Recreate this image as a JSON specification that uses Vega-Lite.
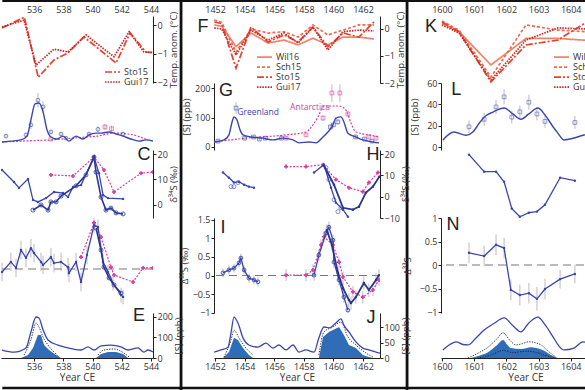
{
"$schema":"https://vega.github.io/schema/vega-lite/v6.json",
"padding":0,
"background":"white",
"bounds":"flush",
"columns":3,
"spacing":{"row":0,"column":61},
"resolve":{"scale":{"color":"independent","strokeDash":"independent","shape":"independent"}},
"config":{
 "font":"Open Sans",
 "view":{"stroke":null},
 "axis":{"grid":false,"labelFont":"Open Sans","labelFontSize":9,"labelColor":"#333","titleFont":"Open Sans","titleFontSize":9.5,"titleFontWeight":"normal","titleColor":"#333","domainColor":"#222","tickColor":"#222","tickSize":3,"labelPadding":1,"titlePadding":1,"labelFlush":false,"labelOverlap":false}
},
"datasets":{
 "c1A":[
  {"s":"Sto15","yr":533.80,"v":-0.09},{"s":"Sto15","yr":535.33,"v":0.29},{"s":"Sto15","yr":536.28,"v":-1.82},{"s":"Sto15","yr":537.36,"v":-1.21},{"s":"Sto15","yr":538.32,"v":-0.96},{"s":"Sto15","yr":539.41,"v":-0.40},{"s":"Sto15","yr":541.61,"v":-1.32},{"s":"Sto15","yr":542.57,"v":-0.26},{"s":"Sto15","yr":543.66,"v":-0.93},{"s":"Sto15","yr":544.14,"v":-0.95},
  {"s":"Gui17","yr":533.80,"v":-0.05},{"s":"Gui17","yr":535.31,"v":0.19},{"s":"Gui17","yr":536.13,"v":-1.39},{"s":"Gui17","yr":537.36,"v":-0.83},{"s":"Gui17","yr":538.32,"v":-0.93},{"s":"Gui17","yr":539.55,"v":-0.33},{"s":"Gui17","yr":541.47,"v":-1.10},{"s":"Gui17","yr":542.50,"v":-0.22},{"s":"Gui17","yr":543.52,"v":-0.93},{"s":"Gui17","yr":544.14,"v":-0.95}
 ],
 "c1BG":[{"yr":533.80,"v":17},{"yr":534.41,"v":20},{"yr":535.10,"v":24},{"yr":535.51,"v":37},{"yr":535.78,"v":92},{"yr":536.06,"v":146},{"yr":536.33,"v":149},{"yr":536.61,"v":119},{"yr":536.88,"v":58},{"yr":537.15,"v":34},{"yr":537.57,"v":27},{"yr":537.98,"v":37},{"yr":538.39,"v":20},{"yr":538.87,"v":37},{"yr":539.35,"v":27},{"yr":539.76,"v":41},{"yr":540.24,"v":47},{"yr":540.58,"v":47},{"yr":541.13,"v":51},{"yr":541.61,"v":44},{"yr":542.09,"v":37},{"yr":542.63,"v":27},{"yr":543.18,"v":20},{"yr":543.66,"v":24},{"yr":544.14,"v":20}],
 "c1BA":[{"yr":533.80,"v":17},{"yr":537.15,"v":24},{"yr":540.37,"v":37},{"yr":541.26,"v":47},{"yr":541.95,"v":47},{"yr":542.84,"v":41},{"yr":543.80,"v":24}],
 "c1Bp":[{"s":"G","yr":535.78,"v":75,"lo":60,"hi":90},{"s":"G","yr":536.26,"v":159,"lo":134,"hi":184},{"s":"G","yr":536.61,"v":136,"lo":116,"hi":156},{"s":"G","yr":534.07,"v":37,"lo":30,"hi":44},{"s":"G","yr":535.44,"v":41,"lo":34,"hi":48},{"s":"G","yr":537.15,"v":51,"lo":44,"hi":58},{"s":"G","yr":537.84,"v":44,"lo":37,"hi":51},{"s":"G","yr":538.18,"v":30,"lo":24,"hi":36},{"s":"G","yr":539.76,"v":44,"lo":37,"hi":51},{"s":"G","yr":542.09,"v":44,"lo":37,"hi":51},{"s":"G","yr":540.37,"v":60,"lo":50,"hi":70},{"s":"A","yr":537.15,"v":27,"lo":20,"hi":34},{"s":"A","yr":540.85,"v":68,"lo":58,"hi":78},{"s":"A","yr":541.30,"v":62,"lo":52,"hi":72}],
 "c1C":[
  {"s":"L1","yr":533.80,"v":13.7},{"s":"L1","yr":534.62,"v":9.0},{"s":"L1","yr":534.96,"v":6.7},{"s":"L1","yr":535.58,"v":10.2},{"s":"L1","yr":535.92,"v":2.0},{"s":"L1","yr":536.26,"v":1.2},{"s":"L1","yr":536.81,"v":2.7},{"s":"L1","yr":537.36,"v":5.1},{"s":"L1","yr":537.98,"v":4.7},{"s":"L1","yr":538.32,"v":3.1},{"s":"L1","yr":538.66,"v":7.1},{"s":"L1","yr":539.21,"v":7.8},{"s":"L1","yr":540.10,"v":18.8},{"s":"L1","yr":540.44,"v":12.5},{"s":"L1","yr":540.72,"v":3.9},{"s":"L1","yr":541.06,"v":2.7},{"s":"L1","yr":542.09,"v":2.4},
  {"s":"L2","yr":535.92,"v":-2.0},{"s":"L2","yr":536.47,"v":0},{"s":"L2","yr":536.95,"v":-2.0},{"s":"L2","yr":537.15,"v":1.2},{"s":"L2","yr":537.50,"v":1.2},{"s":"L2","yr":537.84,"v":3.5},{"s":"L2","yr":538.87,"v":7.5},{"s":"L2","yr":539.55,"v":11.8},{"s":"L2","yr":540.10,"v":18.8},{"s":"L2","yr":540.24,"v":12.9},{"s":"L2","yr":540.58,"v":3.1},{"s":"L2","yr":540.92,"v":-2.0},{"s":"L2","yr":541.26,"v":-1.2},{"s":"L2","yr":541.61,"v":-3.1},{"s":"L2","yr":542.09,"v":-3.5},
  {"s":"M","yr":537.15,"v":11.8},{"s":"M","yr":538.66,"v":11.4},{"s":"M","yr":540.10,"v":18.8},{"s":"M","yr":540.78,"v":13.7},{"s":"M","yr":541.47,"v":5.1},{"s":"M","yr":543.32,"v":12.5},{"s":"M","yr":544.14,"v":12.9}
 ],
 "c1D":[
  {"s":"L1","yr":533.80,"v":-0.08,"lo":-0.33,"hi":0.17},{"s":"L1","yr":534.41,"v":0.19,"lo":-0.06,"hi":0.44},{"s":"L1","yr":534.76,"v":0.03,"lo":-0.22,"hi":0.28},{"s":"L1","yr":535.10,"v":0.51,"lo":0.26,"hi":0.76},{"s":"L1","yr":535.44,"v":0.30,"lo":0.05,"hi":0.55},{"s":"L1","yr":535.78,"v":0.56,"lo":0.31,"hi":0.81},{"s":"L1","yr":535.99,"v":0.43,"lo":0.18,"hi":0.68},{"s":"L1","yr":536.47,"v":0.19,"lo":-0.06,"hi":0.44},{"s":"L1","yr":536.61,"v":0.11,"lo":-0.14,"hi":0.36},{"s":"L1","yr":537.15,"v":0.32,"lo":0.07,"hi":0.57},{"s":"L1","yr":537.36,"v":0.16,"lo":-0.09,"hi":0.41},{"s":"L1","yr":537.84,"v":0.19,"lo":-0.06,"hi":0.44},{"s":"L1","yr":538.32,"v":0.05,"lo":-0.2,"hi":0.3},{"s":"L1","yr":538.39,"v":-0.11,"lo":-0.36,"hi":0.14},{"s":"L1","yr":538.87,"v":0.19,"lo":-0.06,"hi":0.44},{"s":"L1","yr":539.21,"v":-0.35,"lo":-0.6,"hi":-0.1},{"s":"L1","yr":539.62,"v":0.38,"lo":0.13,"hi":0.63},{"s":"L1","yr":540.10,"v":1.18,"lo":0.98,"hi":1.38},{"s":"L1","yr":540.37,"v":1.13,"lo":0.93,"hi":1.33},{"s":"L1","yr":540.72,"v":0.19,"lo":-0.01,"hi":0.39},{"s":"L1","yr":541.06,"v":-0.08,"lo":-0.28,"hi":0.12},{"s":"L1","yr":541.40,"v":-0.38,"lo":-0.58,"hi":-0.18},{"s":"L1","yr":541.95,"v":-0.70,"lo":-0.9,"hi":-0.5},{"s":"L1","yr":542.09,"v":-0.75,"lo":-0.95,"hi":-0.55},
  {"s":"L2","yr":540.24,"v":1.10},{"s":"L2","yr":540.58,"v":0.51},{"s":"L2","yr":540.78,"v":0.05},{"s":"L2","yr":541.13,"v":-0.24},{"s":"L2","yr":541.47,"v":-0.43},{"s":"L2","yr":541.95,"v":-0.65},
  {"s":"M","yr":539.21,"v":0.32},{"s":"M","yr":540.10,"v":1.24},{"s":"M","yr":540.58,"v":0.86},{"s":"M","yr":541.26,"v":0.05},{"s":"M","yr":541.47,"v":-0.16},{"s":"M","yr":542.77,"v":-0.35},{"s":"M","yr":543.46,"v":0.03},{"s":"M","yr":544.14,"v":0.03}
 ],
 "c1E":[
  {"s":"tot","g":"a","yr":533.80,"v":39},{"s":"tot","g":"a","yr":534.62,"v":29},{"s":"tot","g":"a","yr":535.44,"v":49},{"s":"tot","g":"a","yr":535.78,"v":127},{"s":"tot","g":"a","yr":536.13,"v":200},{"s":"tot","g":"a","yr":536.33,"v":195},{"s":"tot","g":"a","yr":536.61,"v":137},{"s":"tot","g":"a","yr":536.95,"v":88},{"s":"tot","g":"a","yr":537.63,"v":63},{"s":"tot","g":"a","yr":538.32,"v":49},{"s":"tot","g":"a","yr":539.21,"v":39},{"s":"tot","g":"a","yr":539.69,"v":54},{"s":"tot","g":"a","yr":540.10,"v":39},{"s":"tot","g":"a","yr":540.58,"v":59},{"s":"tot","g":"a","yr":541.26,"v":63},{"s":"tot","g":"a","yr":541.95,"v":54},{"s":"tot","g":"a","yr":542.43,"v":39},{"s":"tot","g":"a","yr":543.11,"v":49},{"s":"tot","g":"a","yr":543.52,"v":29},{"s":"tot","g":"a","yr":543.80,"v":39},{"s":"tot","g":"a","yr":544.14,"v":29},
  {"s":"ub","g":"a","yr":535.31,"v":15},{"s":"ub","g":"a","yr":535.78,"v":88},{"s":"ub","g":"a","yr":536.13,"v":171},{"s":"ub","g":"a","yr":536.33,"v":151},{"s":"ub","g":"a","yr":536.61,"v":102},{"s":"ub","g":"a","yr":536.95,"v":63},{"s":"ub","g":"a","yr":537.36,"v":29},{"s":"ub","g":"a","yr":537.70,"v":5},
  {"s":"ub","g":"b","yr":540.37,"v":15},{"s":"ub","g":"b","yr":540.78,"v":39},{"s":"ub","g":"b","yr":541.47,"v":44},{"s":"ub","g":"b","yr":542.15,"v":24},{"s":"ub","g":"b","yr":542.50,"v":5},
  {"s":"fill","g":"a","yr":535.10,"v":0},{"s":"fill","g":"a","yr":535.58,"v":15},{"s":"fill","g":"a","yr":535.92,"v":49},{"s":"fill","g":"a","yr":536.26,"v":112},{"s":"fill","g":"a","yr":536.47,"v":112},{"s":"fill","g":"a","yr":536.68,"v":63},{"s":"fill","g":"a","yr":537.02,"v":39},{"s":"fill","g":"a","yr":537.50,"v":15},{"s":"fill","g":"a","yr":537.84,"v":0},
  {"s":"fill","g":"b","yr":540.24,"v":0},{"s":"fill","g":"b","yr":540.58,"v":20},{"s":"fill","g":"b","yr":541.06,"v":29},{"s":"fill","g":"b","yr":541.61,"v":29},{"s":"fill","g":"b","yr":542.09,"v":20},{"s":"fill","g":"b","yr":542.43,"v":0}
 ],
 "c2F":[
  {"s":"Wil16","yr":1451.95,"v":0.15},{"s":"Wil16","yr":1452.45,"v":0.10},{"s":"Wil16","yr":1453.42,"v":-0.65},{"s":"Wil16","yr":1454.43,"v":-0.15},{"s":"Wil16","yr":1455.58,"v":-0.52},{"s":"Wil16","yr":1456.66,"v":-0.41},{"s":"Wil16","yr":1457.61,"v":-0.59},{"s":"Wil16","yr":1458.62,"v":-0.34},{"s":"Wil16","yr":1459.63,"v":-0.59},{"s":"Wil16","yr":1460.65,"v":-0.30},{"s":"Wil16","yr":1461.73,"v":-0.30},{"s":"Wil16","yr":1462.74,"v":-0.37},
  {"s":"Sch15","yr":1451.95,"v":0.33},{"s":"Sch15","yr":1452.45,"v":0.25},{"s":"Sch15","yr":1453.42,"v":-0.85},{"s":"Sch15","yr":1454.43,"v":0.0},{"s":"Sch15","yr":1455.58,"v":-0.15},{"s":"Sch15","yr":1456.66,"v":-0.10},{"s":"Sch15","yr":1457.61,"v":-0.30},{"s":"Sch15","yr":1458.62,"v":0.15},{"s":"Sch15","yr":1459.63,"v":-0.22},{"s":"Sch15","yr":1460.65,"v":-0.04},{"s":"Sch15","yr":1461.73,"v":0.15},{"s":"Sch15","yr":1462.74,"v":0.15},
  {"s":"Sto15","yr":1451.95,"v":0.26},{"s":"Sto15","yr":1452.45,"v":0.20},{"s":"Sto15","yr":1453.42,"v":-1.45},{"s":"Sto15","yr":1454.43,"v":0.07},{"s":"Sto15","yr":1455.58,"v":-0.48},{"s":"Sto15","yr":1456.66,"v":-0.22},{"s":"Sto15","yr":1457.61,"v":-0.48},{"s":"Sto15","yr":1458.62,"v":0.07},{"s":"Sto15","yr":1459.63,"v":-0.66},{"s":"Sto15","yr":1460.65,"v":-0.15},{"s":"Sto15","yr":1461.73,"v":-0.30},{"s":"Sto15","yr":1462.74,"v":0.26},
  {"s":"Gui17","yr":1451.95,"v":0.04},{"s":"Gui17","yr":1452.45,"v":0.0},{"s":"Gui17","yr":1453.42,"v":-0.96},{"s":"Gui17","yr":1454.43,"v":-0.04},{"s":"Gui17","yr":1455.58,"v":-0.41},{"s":"Gui17","yr":1456.66,"v":-0.15},{"s":"Gui17","yr":1457.61,"v":-0.52},{"s":"Gui17","yr":1458.62,"v":0.07},{"s":"Gui17","yr":1459.63,"v":-0.78},{"s":"Gui17","yr":1460.65,"v":-0.10},{"s":"Gui17","yr":1461.73,"v":-0.04},{"s":"Gui17","yr":1462.74,"v":-0.07}
 ],
 "c2GG":[{"yr":1451.93,"v":17},{"yr":1452.61,"v":24},{"yr":1452.94,"v":41},{"yr":1453.15,"v":85},{"yr":1453.28,"v":102},{"yr":1453.48,"v":92},{"yr":1453.69,"v":58},{"yr":1453.89,"v":41},{"yr":1454.43,"v":34},{"yr":1455.24,"v":30},{"yr":1455.92,"v":24},{"yr":1456.59,"v":30},{"yr":1457.27,"v":24},{"yr":1457.67,"v":14},{"yr":1458.35,"v":17},{"yr":1458.82,"v":14},{"yr":1459.30,"v":34},{"yr":1459.63,"v":51},{"yr":1459.90,"v":68},{"yr":1460.18,"v":98},{"yr":1460.51,"v":102},{"yr":1460.71,"v":85},{"yr":1460.98,"v":47},{"yr":1461.52,"v":34},{"yr":1461.99,"v":24},{"yr":1462.67,"v":17},{"yr":1463.08,"v":14}],
 "c2GA":[{"yr":1451.93,"v":17},{"yr":1454.09,"v":30},{"yr":1456.80,"v":41},{"yr":1458.15,"v":51},{"yr":1458.62,"v":75},{"yr":1458.96,"v":102},{"yr":1459.30,"v":136},{"yr":1459.70,"v":139},{"yr":1460.38,"v":139},{"yr":1460.85,"v":125},{"yr":1461.19,"v":81},{"yr":1461.52,"v":51},{"yr":1462.40,"v":41},{"yr":1463.08,"v":34}],
 "c2Gp":[{"s":"G","yr":1452.20,"v":20,"lo":15,"hi":25},{"s":"G","yr":1453.42,"v":132,"lo":112,"hi":152},{"s":"G","yr":1454.00,"v":30,"lo":25,"hi":35},{"s":"G","yr":1454.60,"v":34,"lo":29,"hi":39},{"s":"G","yr":1455.00,"v":27,"lo":22,"hi":32},{"s":"G","yr":1455.40,"v":30,"lo":25,"hi":35},{"s":"G","yr":1456.50,"v":30,"lo":25,"hi":35},{"s":"G","yr":1459.80,"v":68,"lo":60,"hi":76},{"s":"G","yr":1460.00,"v":75,"lo":67,"hi":83},{"s":"G","yr":1460.30,"v":85,"lo":77,"hi":93},{"s":"G","yr":1461.50,"v":34,"lo":29,"hi":39},{"s":"G","yr":1462.10,"v":27,"lo":22,"hi":32},{"s":"G","yr":1462.60,"v":20,"lo":15,"hi":25},
  {"s":"A","yr":1456.80,"v":30,"lo":24,"hi":36},{"s":"A","yr":1458.15,"v":41,"lo":34,"hi":48},{"s":"A","yr":1459.30,"v":98,"lo":88,"hi":108},{"s":"A","yr":1459.90,"v":183,"lo":153,"hi":213},{"s":"A","yr":1460.44,"v":183,"lo":153,"hi":213},{"s":"A","yr":1460.98,"v":112,"lo":102,"hi":122},{"s":"A","yr":1462.40,"v":34,"lo":28,"hi":40},{"s":"A","yr":1462.88,"v":30,"lo":24,"hi":36}],
 "c2H":[
  {"s":"L0","yr":1452.54,"v":11.3},{"s":"L0","yr":1452.94,"v":8.9},{"s":"L0","yr":1453.28,"v":6.6},{"s":"L0","yr":1453.62,"v":7.0},{"s":"L0","yr":1453.96,"v":5.6},{"s":"L0","yr":1454.29,"v":4.7},{"s":"L0","yr":1454.63,"v":4.2},
  {"s":"L1","yr":1458.69,"v":11.3},{"s":"L1","yr":1459.36,"v":15.0},{"s":"L1","yr":1459.84,"v":4.2},{"s":"L1","yr":1460.17,"v":-2.8},{"s":"L1","yr":1460.65,"v":-6.1},{"s":"L1","yr":1460.98,"v":-9.4},
  {"s":"L2","yr":1459.36,"v":14.6},{"s":"L2","yr":1460.04,"v":5.6},{"s":"L2","yr":1460.65,"v":-5.2},{"s":"L2","yr":1461.32,"v":-6.1},{"s":"L2","yr":1461.73,"v":-4.7},{"s":"L2","yr":1462.20,"v":1.9},{"s":"L2","yr":1462.67,"v":4.7},{"s":"L2","yr":1463.10,"v":9.4},
  {"s":"M","yr":1456.80,"v":14.1},{"s":"M","yr":1458.15,"v":14.1},{"s":"M","yr":1459.30,"v":15.0},{"s":"M","yr":1460.17,"v":8.0},{"s":"M","yr":1461.05,"v":4.2},{"s":"M","yr":1461.99,"v":2.3},{"s":"M","yr":1462.40,"v":6.6},{"s":"M","yr":1463.01,"v":11.3},
  {"s":"C","yr":1453.08,"v":4.7},{"s":"C","yr":1453.28,"v":4.7},{"s":"C","yr":1453.55,"v":6.6},{"s":"C","yr":1459.50,"v":13.6},{"s":"C","yr":1459.70,"v":8.0},{"s":"C","yr":1460.04,"v":-1.4},{"s":"C","yr":1460.31,"v":-7.0},{"s":"C","yr":1460.51,"v":-5.2}
 ],
 "c2I":[
  {"s":"L0","yr":1452.54,"v":0.07,"lo":-0.05,"hi":0.19},{"s":"L0","yr":1452.94,"v":0.15,"lo":0.03,"hi":0.27},{"s":"L0","yr":1453.28,"v":0.20,"lo":0.08,"hi":0.32},{"s":"L0","yr":1453.62,"v":0.34,"lo":0.22,"hi":0.46},{"s":"L0","yr":1453.75,"v":0.47,"lo":0.35,"hi":0.59},{"s":"L0","yr":1453.96,"v":0.15,"lo":0.03,"hi":0.27},{"s":"L0","yr":1454.29,"v":-0.07,"lo":-0.19,"hi":0.05},{"s":"L0","yr":1454.63,"v":-0.12,"lo":-0.24,"hi":0.0},{"s":"L0","yr":1454.90,"v":-0.17,"lo":-0.29,"hi":-0.05},
  {"s":"L1","yr":1458.69,"v":0.01,"lo":-0.14,"hi":0.16},{"s":"L1","yr":1459.02,"v":0.55,"lo":0.4,"hi":0.7},{"s":"L1","yr":1459.50,"v":1.14,"lo":0.99,"hi":1.29},{"s":"L1","yr":1459.70,"v":1.30,"lo":1.15,"hi":1.45},{"s":"L1","yr":1459.97,"v":0.95,"lo":0.8,"hi":1.1},{"s":"L1","yr":1460.04,"v":0.36,"lo":0.21,"hi":0.51},{"s":"L1","yr":1460.38,"v":-0.12,"lo":-0.27,"hi":0.03},{"s":"L1","yr":1460.71,"v":-0.58,"lo":-0.73,"hi":-0.43},{"s":"L1","yr":1460.98,"v":-0.93,"lo":-1.0,"hi":-0.78},
  {"s":"L2","yr":1459.56,"v":1.22,"lo":1.07,"hi":1.37},{"s":"L2","yr":1459.90,"v":0.82,"lo":0.67,"hi":0.97},{"s":"L2","yr":1460.31,"v":0.07,"lo":-0.08,"hi":0.22},{"s":"L2","yr":1460.65,"v":-0.34,"lo":-0.49,"hi":-0.19},{"s":"L2","yr":1461.05,"v":-0.66,"lo":-0.84,"hi":-0.48},{"s":"L2","yr":1461.19,"v":-0.74,"lo":-0.92,"hi":-0.56},{"s":"L2","yr":1461.52,"v":-0.58,"lo":-0.76,"hi":-0.4},{"s":"L2","yr":1462.06,"v":-0.20,"lo":-0.38,"hi":-0.02},{"s":"L2","yr":1462.40,"v":-0.39,"lo":-0.57,"hi":-0.21},{"s":"L2","yr":1462.88,"v":-0.12,"lo":-0.3,"hi":0.06},{"s":"L2","yr":1463.08,"v":0.01,"lo":-0.15,"hi":0.17},
  {"s":"M","yr":1456.80,"v":0.01,"lo":-0.15,"hi":0.17},{"s":"M","yr":1458.15,"v":0.01,"lo":-0.15,"hi":0.17},{"s":"M","yr":1458.62,"v":0.15,"lo":0.0,"hi":0.3},{"s":"M","yr":1459.16,"v":0.82,"lo":0.67,"hi":0.97},{"s":"M","yr":1459.36,"v":1.04,"lo":0.89,"hi":1.19},{"s":"M","yr":1459.97,"v":0.82,"lo":0.67,"hi":0.97},{"s":"M","yr":1460.38,"v":0.36,"lo":0.21,"hi":0.51},{"s":"M","yr":1460.65,"v":-0.04,"lo":-0.19,"hi":0.11},{"s":"M","yr":1461.32,"v":-0.44,"lo":-0.6,"hi":-0.28},{"s":"M","yr":1461.99,"v":-0.58,"lo":-0.74,"hi":-0.42},{"s":"M","yr":1462.67,"v":-0.39,"lo":-0.55,"hi":-0.23},{"s":"M","yr":1463.08,"v":-0.12,"lo":-0.28,"hi":0.04}
 ],
 "c2J":[
  {"s":"tot","g":"a","yr":1451.93,"v":19},{"s":"tot","g":"a","yr":1452.40,"v":26},{"s":"tot","g":"a","yr":1452.88,"v":35},{"s":"tot","g":"a","yr":1453.08,"v":81},{"s":"tot","g":"a","yr":1453.28,"v":132},{"s":"tot","g":"a","yr":1453.55,"v":113},{"s":"tot","g":"a","yr":1453.89,"v":65},{"s":"tot","g":"a","yr":1454.29,"v":42},{"s":"tot","g":"a","yr":1454.90,"v":35},{"s":"tot","g":"a","yr":1455.44,"v":48},{"s":"tot","g":"a","yr":1455.92,"v":32},{"s":"tot","g":"a","yr":1456.32,"v":42},{"s":"tot","g":"a","yr":1456.80,"v":26},{"s":"tot","g":"a","yr":1457.27,"v":42},{"s":"tot","g":"a","yr":1457.67,"v":19},{"s":"tot","g":"a","yr":1458.15,"v":26},{"s":"tot","g":"a","yr":1458.69,"v":19},{"s":"tot","g":"a","yr":1459.02,"v":65},{"s":"tot","g":"a","yr":1459.36,"v":100},{"s":"tot","g":"a","yr":1459.70,"v":97},{"s":"tot","g":"a","yr":1460.17,"v":113},{"s":"tot","g":"a","yr":1460.51,"v":126},{"s":"tot","g":"a","yr":1460.71,"v":106},{"s":"tot","g":"a","yr":1461.05,"v":84},{"s":"tot","g":"a","yr":1461.52,"v":52},{"s":"tot","g":"a","yr":1461.99,"v":32},{"s":"tot","g":"a","yr":1462.40,"v":26},{"s":"tot","g":"a","yr":1462.88,"v":19},{"s":"tot","g":"a","yr":1463.15,"v":16},
  {"s":"ub","g":"a","yr":1452.61,"v":3},{"s":"ub","g":"a","yr":1453.08,"v":58},{"s":"ub","g":"a","yr":1453.28,"v":90},{"s":"ub","g":"a","yr":1453.62,"v":65},{"s":"ub","g":"a","yr":1454.09,"v":32},{"s":"ub","g":"a","yr":1454.57,"v":10},
  {"s":"ub","g":"b","yr":1459.02,"v":10},{"s":"ub","g":"b","yr":1459.36,"v":84},{"s":"ub","g":"b","yr":1459.97,"v":100},{"s":"ub","g":"b","yr":1460.51,"v":116},{"s":"ub","g":"b","yr":1460.98,"v":68},{"s":"ub","g":"b","yr":1461.52,"v":42},{"s":"ub","g":"b","yr":1462.20,"v":16},{"s":"ub","g":"b","yr":1462.67,"v":3},
  {"s":"fill","g":"a","yr":1452.54,"v":0},{"s":"fill","g":"a","yr":1452.94,"v":19},{"s":"fill","g":"a","yr":1453.28,"v":65},{"s":"fill","g":"a","yr":1453.55,"v":58},{"s":"fill","g":"a","yr":1453.89,"v":32},{"s":"fill","g":"a","yr":1454.29,"v":10},{"s":"fill","g":"a","yr":1454.57,"v":0},
  {"s":"fill","g":"b","yr":1459.02,"v":0},{"s":"fill","g":"b","yr":1459.30,"v":68},{"s":"fill","g":"b","yr":1459.70,"v":84},{"s":"fill","g":"b","yr":1460.38,"v":100},{"s":"fill","g":"b","yr":1460.71,"v":74},{"s":"fill","g":"b","yr":1461.05,"v":42},{"s":"fill","g":"b","yr":1461.52,"v":32},{"s":"fill","g":"b","yr":1461.99,"v":10},{"s":"fill","g":"b","yr":1462.40,"v":3},{"s":"fill","g":"b","yr":1462.67,"v":0}
 ],
 "c3K":[
  {"s":"Wil16","yr":1600.0,"v":0.21},{"s":"Wil16","yr":1600.53,"v":-0.10},{"s":"Wil16","yr":1601.52,"v":-1.33},{"s":"Wil16","yr":1602.61,"v":-0.35},{"s":"Wil16","yr":1603.60,"v":-0.35},{"s":"Wil16","yr":1604.50,"v":-0.42},
  {"s":"Sch15","yr":1600.0,"v":0.30},{"s":"Sch15","yr":1600.53,"v":-0.05},{"s":"Sch15","yr":1601.52,"v":-1.78},{"s":"Sch15","yr":1602.61,"v":0.15},{"s":"Sch15","yr":1603.60,"v":-0.04},{"s":"Sch15","yr":1604.50,"v":-0.10},
  {"s":"Sto15","yr":1600.0,"v":0.26},{"s":"Sto15","yr":1600.53,"v":-0.10},{"s":"Sto15","yr":1601.52,"v":-1.96},{"s":"Sto15","yr":1602.61,"v":-0.59},{"s":"Sto15","yr":1603.60,"v":-0.41},{"s":"Sto15","yr":1604.50,"v":0.26},
  {"s":"Gui17","yr":1600.0,"v":0.15},{"s":"Gui17","yr":1600.53,"v":-0.15},{"s":"Gui17","yr":1601.52,"v":-1.89},{"s":"Gui17","yr":1602.61,"v":-0.41},{"s":"Gui17","yr":1603.60,"v":0.04},{"s":"Gui17","yr":1604.50,"v":0.0}
 ],
 "c3L":[{"yr":1600.03,"v":6.6},{"yr":1600.37,"v":14},{"yr":1600.75,"v":11},{"yr":1600.96,"v":14},{"yr":1601.15,"v":22},{"yr":1601.31,"v":28},{"yr":1601.6,"v":33},{"yr":1601.93,"v":36.5},{"yr":1602.2,"v":31},{"yr":1602.45,"v":26},{"yr":1602.7,"v":31},{"yr":1602.98,"v":36.5},{"yr":1603.2,"v":30},{"yr":1603.45,"v":19},{"yr":1603.6,"v":13},{"yr":1603.79,"v":6.6},{"yr":1604.1,"v":8.4},{"yr":1604.38,"v":11},{"yr":1604.8,"v":14}],
 "c3Lp":[{"yr":1600.84,"v":19,"lo":13,"hi":25},{"yr":1601.31,"v":26,"lo":20,"hi":32},{"yr":1601.68,"v":37.5,"lo":31,"hi":44},{"yr":1601.93,"v":47,"lo":40,"hi":54},{"yr":1602.17,"v":28,"lo":22,"hi":34},{"yr":1602.42,"v":33,"lo":27,"hi":39},{"yr":1602.70,"v":42,"lo":35,"hi":49},{"yr":1602.95,"v":31,"lo":25,"hi":37},{"yr":1603.20,"v":24,"lo":18,"hi":30},{"yr":1604.13,"v":23,"lo":17,"hi":29}],
 "c3M":[{"yr":1600.84,"v":19.7},{"yr":1601.31,"v":11.7},{"yr":1601.68,"v":11.7},{"yr":1601.93,"v":7.0},{"yr":1602.17,"v":-5.6},{"yr":1602.42,"v":-9.4},{"yr":1602.70,"v":-7.5},{"yr":1602.95,"v":-7.0},{"yr":1603.20,"v":-3.8},{"yr":1603.67,"v":8.9},{"yr":1604.13,"v":7.5}],
 "c3N":[{"yr":1600.84,"v":0.26,"lo":0.04,"hi":0.48},{"yr":1601.31,"v":0.19,"lo":-0.03,"hi":0.41},{"yr":1601.68,"v":0.43,"lo":0.21,"hi":0.65},{"yr":1601.93,"v":0.36,"lo":0.14,"hi":0.58},{"yr":1602.14,"v":-0.53,"lo":-0.75,"hi":-0.31},{"yr":1602.42,"v":-0.64,"lo":-0.86,"hi":-0.42},{"yr":1602.70,"v":-0.60,"lo":-0.82,"hi":-0.38},{"yr":1602.95,"v":-0.72,"lo":-0.97,"hi":-0.47},{"yr":1603.20,"v":-0.51,"lo":-0.73,"hi":-0.29},{"yr":1603.67,"v":-0.30,"lo":-0.5,"hi":-0.1},{"yr":1604.13,"v":-0.19,"lo":-0.39,"hi":0.01}],
 "c3O":[
  {"s":"tot","yr":1600.03,"v":18},{"s":"tot","yr":1600.25,"v":30},{"s":"tot","yr":1600.44,"v":36},{"s":"tot","yr":1600.65,"v":30},{"s":"tot","yr":1600.81,"v":29},{"s":"tot","yr":1601.05,"v":44},{"s":"tot","yr":1601.31,"v":62},{"s":"tot","yr":1601.6,"v":76},{"s":"tot","yr":1601.93,"v":89},{"s":"tot","yr":1602.2,"v":72},{"s":"tot","yr":1602.45,"v":58},{"s":"tot","yr":1602.7,"v":78},{"s":"tot","yr":1602.98,"v":91},{"s":"tot","yr":1603.2,"v":74},{"s":"tot","yr":1603.45,"v":47},{"s":"tot","yr":1603.62,"v":28},{"s":"tot","yr":1603.79,"v":18},{"s":"tot","yr":1604.10,"v":22},{"s":"tot","yr":1604.38,"v":36},{"s":"tot","yr":1604.6,"v":32},{"s":"tot","yr":1604.9,"v":28},
  {"s":"ub","yr":1600.81,"v":0},{"s":"ub","yr":1601.1,"v":10},{"s":"ub","yr":1601.43,"v":24},{"s":"ub","yr":1601.7,"v":42},{"s":"ub","yr":1601.90,"v":56},{"s":"ub","yr":1602.1,"v":40},{"s":"ub","yr":1602.30,"v":29},{"s":"ub","yr":1602.5,"v":32},{"s":"ub","yr":1602.70,"v":36},{"s":"ub","yr":1602.9,"v":34},{"s":"ub","yr":1603.08,"v":29},{"s":"ub","yr":1603.3,"v":15},{"s":"ub","yr":1603.54,"v":2},
  {"s":"lb","yr":1601.1,"v":0},{"s":"lb","yr":1601.5,"v":6},{"s":"lb","yr":1601.9,"v":17},{"s":"lb","yr":1602.2,"v":12},{"s":"lb","yr":1602.6,"v":15},{"s":"lb","yr":1602.9,"v":13},{"s":"lb","yr":1603.2,"v":6},{"s":"lb","yr":1603.5,"v":0},
  {"s":"fill","yr":1600.90,"v":0},{"s":"fill","yr":1601.15,"v":5},{"s":"fill","yr":1601.43,"v":13},{"s":"fill","yr":1601.7,"v":28},{"s":"fill","yr":1601.90,"v":40},{"s":"fill","yr":1602.02,"v":30},{"s":"fill","yr":1602.14,"v":22},{"s":"fill","yr":1602.45,"v":20},{"s":"fill","yr":1602.77,"v":24},{"s":"fill","yr":1603.0,"v":21},{"s":"fill","yr":1603.17,"v":16},{"s":"fill","yr":1603.4,"v":6},{"s":"fill","yr":1603.60,"v":0}
 ]
},
"concat":[
  {"width":152,"height":67,
   "layer":[
    {"data":{"name":"c1A"},"mark":{"type":"line","strokeWidth":1.7,"clip":true},
     "encoding":{
      "x":{"field":"yr","type":"quantitative","scale":{"domain":[533.73,544.14],"nice":false,"zero":false},"axis":{"orient":"top","values":[536,538,540,542,544],"format":"d","domain":false,"ticks":false,"labelPadding":2,"title":null}},
      "y":{"field":"v","type":"quantitative","scale":{"domain":[-2.018,0.333],"nice":false,"zero":false},"axis":{"orient":"right","values":[-2,-1,0],"title":"Temp. anom. (°C)","titleAngle":270,"titleBaseline":"top"}},
      "color":{"field":"s","type":"nominal","scale":{"domain":["Sto15","Gui17"],"range":["#e5432e","#cf2020"]},"legend":{"title":null,"orient":"none","legendX":103,"legendY":51.5,"labelFontSize":9,"labelColor":"#333","symbolType":"stroke","symbolSize":225,"symbolStrokeWidth":1.7,"clipHeight":9,"rowPadding":0,"padding":0,"labelOffset":3}},
      "strokeDash":{"field":"s","type":"nominal","scale":{"domain":["Sto15","Gui17"],"range":[[7,2,2,2],[1.5,1.2]]},"legend":{"title":null,"orient":"none","legendX":103,"legendY":51.5,"labelFontSize":9,"labelColor":"#333","symbolType":"stroke","symbolSize":225,"symbolStrokeWidth":1.7,"clipHeight":9,"rowPadding":0,"padding":0,"labelOffset":3}}}},
    {"data":{"values":[{}]},"mark":{"type":"rule","color":"#111","strokeWidth":2,"clip":false},"encoding":{
      "x":{"datum":533.82,"type":"quantitative","scale":{"domain":[533.73,544.14],"nice":false,"zero":false},"axis":{"orient":"top","values":[536,538,540,542,544],"format":"d","domain":false,"ticks":false,"labelPadding":2,"title":null}},"x2":{"datum":574.83},
      "y":{"datum":0.859,"type":"quantitative","scale":{"domain":[-2.018,0.333],"nice":false,"zero":false},"axis":{"orient":"right","values":[-2,-1,0],"title":"Temp. anom. (°C)","titleAngle":270,"titleBaseline":"top"}}}},
    {"data":{"values":[{}]},"mark":{"type":"rule","color":"#111","strokeWidth":2.6,"clip":false},"encoding":{
      "x":{"datum":533.82,"type":"quantitative","scale":{"domain":[533.73,544.14],"nice":false,"zero":false},"axis":{"orient":"top","values":[536,538,540,542,544],"format":"d","domain":false,"ticks":false,"labelPadding":2,"title":null}},"x2":{"datum":574.83},
      "y":{"datum":-12.72,"type":"quantitative","scale":{"domain":[-2.018,0.333],"nice":false,"zero":false},"axis":{"orient":"right","values":[-2,-1,0],"title":"Temp. anom. (°C)","titleAngle":270,"titleBaseline":"top"}}}},
    {"data":{"values":[{}]},"mark":{"type":"rule","color":"#111","strokeWidth":2.8,"clip":false},"encoding":{
      "x":{"datum":546.06,"type":"quantitative","scale":{"domain":[533.73,544.14],"nice":false,"zero":false},"axis":{"orient":"top","values":[536,538,540,542,544],"format":"d","domain":false,"ticks":false,"labelPadding":2,"title":null}},
      "y":{"datum":0.842,"type":"quantitative","scale":{"domain":[-2.018,0.333],"nice":false,"zero":false},"axis":{"orient":"right","values":[-2,-1,0],"title":"Temp. anom. (°C)","titleAngle":270,"titleBaseline":"top"}},"y2":{"datum":-12.79}}},
    {"data":{"values":[{}]},"mark":{"type":"rule","color":"#111","strokeWidth":2.8,"clip":false},"encoding":{
      "x":{"datum":561.54,"type":"quantitative","scale":{"domain":[533.73,544.14],"nice":false,"zero":false},"axis":{"orient":"top","values":[536,538,540,542,544],"format":"d","domain":false,"ticks":false,"labelPadding":2,"title":null}},
      "y":{"datum":0.842,"type":"quantitative","scale":{"domain":[-2.018,0.333],"nice":false,"zero":false},"axis":{"orient":"right","values":[-2,-1,0],"title":"Temp. anom. (°C)","titleAngle":270,"titleBaseline":"top"}},"y2":{"datum":-12.79}}}
   ]},
  {"width":166,"height":67,
   "layer":[
    {"data":{"name":"c2F"},"mark":{"type":"line","strokeWidth":1.7,"clip":true},
     "encoding":{
      "x":{"field":"yr","type":"quantitative","scale":{"domain":[1451.93,1463.15],"nice":false,"zero":false},"axis":{"orient":"top","values":[1452,1454,1456,1458,1460,1462],"format":"d","domain":false,"ticks":false,"labelPadding":2,"title":null}},
      "y":{"field":"v","type":"quantitative","scale":{"domain":[-2,0.481],"nice":false,"zero":false},"axis":{"orient":"right","values":[-2,-1,0],"title":"Temp. anom. (°C)","titleAngle":270,"titleBaseline":"top"}},
      "color":{"field":"s","type":"nominal","scale":{"domain":["Wil16","Sch15","Sto15","Gui17"],"range":["#f08468","#f26b4d","#e5432e","#cf2020"]},"legend":{"title":null,"orient":"none","legendX":42,"legendY":36.5,"labelFontSize":9,"labelColor":"#333","symbolType":"stroke","symbolSize":225,"symbolStrokeWidth":1.7,"clipHeight":9.3,"rowPadding":0,"padding":0,"labelOffset":3}},
      "strokeDash":{"field":"s","type":"nominal","scale":{"domain":["Wil16","Sch15","Sto15","Gui17"],"range":[[1,0],[3,2],[7,2,2,2],[1.5,1.2]]},"legend":{"title":null,"orient":"none","legendX":42,"legendY":36.5,"labelFontSize":9,"labelColor":"#333","symbolType":"stroke","symbolSize":225,"symbolStrokeWidth":1.7,"clipHeight":9.3,"rowPadding":0,"padding":0,"labelOffset":3}}}},
    {"data":{"values":[{}]},"mark":{"type":"text","text":"F","fontSize":18,"font":"Liberation Sans","color":"#222","clip":false},"encoding":{
      "x":{"datum":1451.19,"type":"quantitative","scale":{"domain":[1451.93,1463.15],"nice":false,"zero":false},"axis":{"orient":"top","values":[1452,1454,1456,1458,1460,1462],"format":"d","domain":false,"ticks":false,"labelPadding":2,"title":null}},
      "y":{"datum":0.07,"type":"quantitative","scale":{"domain":[-2,0.481],"nice":false,"zero":false},"axis":{"orient":"right","values":[-2,-1,0],"title":"Temp. anom. (°C)","titleAngle":270,"titleBaseline":"top"}}}}
   ]},
  {"width":169,"height":67,
   "layer":[
    {"data":{"name":"c3K"},"mark":{"type":"line","strokeWidth":1.7,"clip":true},
     "encoding":{
      "x":{"field":"yr","type":"quantitative","scale":{"domain":[1599.97,1605.22],"nice":false,"zero":false},"axis":{"orient":"top","values":[1600,1601,1602,1603,1604],"format":"d","domain":false,"ticks":false,"labelPadding":2,"title":null}},
      "y":{"field":"v","type":"quantitative","scale":{"domain":[-2,0.481],"nice":false,"zero":false},"axis":{"orient":"right","values":[-2,-1,0],"title":"Temp. anom. (°C)","titleAngle":270,"titleBaseline":"top"}},
      "color":{"field":"s","type":"nominal","scale":{"domain":["Wil16","Sch15","Sto15","Gui17"],"range":["#f08468","#f26b4d","#e5432e","#cf2020"]},"legend":{"title":null,"orient":"none","legendX":112,"legendY":36.5,"labelFontSize":9,"labelColor":"#333","symbolType":"stroke","symbolSize":225,"symbolStrokeWidth":1.7,"clipHeight":9.3,"rowPadding":0,"padding":0,"labelOffset":3}},
      "strokeDash":{"field":"s","type":"nominal","scale":{"domain":["Wil16","Sch15","Sto15","Gui17"],"range":[[1,0],[3,2],[7,2,2,2],[1.5,1.2]]},"legend":{"title":null,"orient":"none","legendX":112,"legendY":36.5,"labelFontSize":9,"labelColor":"#333","symbolType":"stroke","symbolSize":225,"symbolStrokeWidth":1.7,"clipHeight":9.3,"rowPadding":0,"padding":0,"labelOffset":3}}}},
    {"data":{"values":[{}]},"mark":{"type":"text","text":"K","fontSize":18,"font":"Liberation Sans","color":"#222","clip":false},"encoding":{
      "x":{"datum":1599.66,"type":"quantitative","scale":{"domain":[1599.97,1605.22],"nice":false,"zero":false},"axis":{"orient":"top","values":[1600,1601,1602,1603,1604],"format":"d","domain":false,"ticks":false,"labelPadding":2,"title":null}},
      "y":{"datum":0.07,"type":"quantitative","scale":{"domain":[-2,0.481],"nice":false,"zero":false},"axis":{"orient":"right","values":[-2,-1,0],"title":"Temp. anom. (°C)","titleAngle":270,"titleBaseline":"top"}}}}
   ]},
  {"width":152,"height":67,
   "layer":[
    {"data":{"name":"c1BA"},"mark":{"type":"line","color":"#e0399e","strokeDash":[2,1.5],"strokeWidth":1.2,"clip":true},"encoding":{
      "x":{"field":"yr","type":"quantitative","scale":{"domain":[533.73,544.14],"nice":false,"zero":false},"axis":null},
      "y":{"field":"v","type":"quantitative","scale":{"domain":[-10.2,217],"nice":false,"zero":false},"axis":null}}},
    {"data":{"name":"c1Bp"},"mark":{"type":"rule","color":"#aaa","strokeWidth":0.8,"clip":true},"encoding":{
      "x":{"field":"yr","type":"quantitative","scale":{"domain":[533.73,544.14],"nice":false,"zero":false},"axis":null},
      "y":{"field":"lo","type":"quantitative","scale":{"domain":[-10.2,217],"nice":false,"zero":false},"axis":null},"y2":{"field":"hi"}}},
    {"data":{"name":"c1BG"},"mark":{"type":"line","color":"#3a45b0","strokeWidth":1.4,"interpolate":"monotone","clip":true},"encoding":{
      "x":{"field":"yr","type":"quantitative","scale":{"domain":[533.73,544.14],"nice":false,"zero":false},"axis":null},
      "y":{"field":"v","type":"quantitative","scale":{"domain":[-10.2,217],"nice":false,"zero":false},"axis":null}}},
    {"data":{"name":"c1Bp"},"mark":{"type":"point","filled":false,"size":14,"strokeWidth":0.9,"clip":true},"encoding":{
      "x":{"field":"yr","type":"quantitative","scale":{"domain":[533.73,544.14],"nice":false,"zero":false},"axis":null},
      "y":{"field":"v","type":"quantitative","scale":{"domain":[-10.2,217],"nice":false,"zero":false},"axis":null},
      "color":{"field":"s","type":"nominal","scale":{"domain":["G","A"],"range":["#3a45b0","#e0399e"]},"legend":null},
      "shape":{"field":"s","type":"nominal","scale":{"domain":["G","A"],"range":["circle","square"]},"legend":null}}}
   ]},
  {"width":166,"height":67,
   "layer":[
    {"data":{"name":"c2GA"},"mark":{"type":"line","color":"#e0399e","strokeDash":[2,1.5],"strokeWidth":1.2,"clip":true,"interpolate":"monotone"},"encoding":{
      "x":{"field":"yr","type":"quantitative","scale":{"domain":[1451.93,1463.15],"nice":false,"zero":false},"axis":null},
      "y":{"field":"v","type":"quantitative","scale":{"domain":[-10.2,217],"nice":false,"zero":false},"axis":{"orient":"left","values":[0,100,200],"title":"[S] (ppb)","titlePadding":3}}}},
    {"data":{"name":"c2Gp"},"mark":{"type":"rule","color":"#aaa","strokeWidth":0.8,"clip":true},"encoding":{
      "x":{"field":"yr","type":"quantitative","scale":{"domain":[1451.93,1463.15],"nice":false,"zero":false},"axis":null},
      "y":{"field":"lo","type":"quantitative","scale":{"domain":[-10.2,217],"nice":false,"zero":false},"axis":{"orient":"left","values":[0,100,200],"title":"[S] (ppb)","titlePadding":3}},"y2":{"field":"hi"}}},
    {"data":{"name":"c2GG"},"mark":{"type":"line","color":"#3a45b0","strokeWidth":1.4,"interpolate":"monotone","clip":true},"encoding":{
      "x":{"field":"yr","type":"quantitative","scale":{"domain":[1451.93,1463.15],"nice":false,"zero":false},"axis":null},
      "y":{"field":"v","type":"quantitative","scale":{"domain":[-10.2,217],"nice":false,"zero":false},"axis":{"orient":"left","values":[0,100,200],"title":"[S] (ppb)","titlePadding":3}}}},
    {"data":{"name":"c2Gp"},"mark":{"type":"point","shape":"square","filled":false,"size":14,"strokeWidth":0.9,"clip":true},"encoding":{
      "x":{"field":"yr","type":"quantitative","scale":{"domain":[1451.93,1463.15],"nice":false,"zero":false},"axis":null},
      "y":{"field":"v","type":"quantitative","scale":{"domain":[-10.2,217],"nice":false,"zero":false},"axis":{"orient":"left","values":[0,100,200],"title":"[S] (ppb)","titlePadding":3}},
      "color":{"field":"s","type":"nominal","scale":{"domain":["G","A"],"range":["#3a45b0","#e0399e"]},"legend":null}}},
    {"data":{"values":[{}]},"mark":{"type":"text","text":"Greenland","fontSize":8.5,"align":"left","color":"#3a45b0","clip":false},"encoding":{
      "x":{"datum":1453.5,"type":"quantitative","scale":{"domain":[1451.93,1463.15],"nice":false,"zero":false},"axis":null},
      "y":{"datum":119,"type":"quantitative","scale":{"domain":[-10.2,217],"nice":false,"zero":false},"axis":{"orient":"left","values":[0,100,200],"title":"[S] (ppb)","titlePadding":3}}}},
    {"data":{"values":[{}]},"mark":{"type":"text","text":"Antarctica","fontSize":8.5,"align":"left","color":"#d63fa0","clip":false},"encoding":{
      "x":{"datum":1457.07,"type":"quantitative","scale":{"domain":[1451.93,1463.15],"nice":false,"zero":false},"axis":null},
      "y":{"datum":136,"type":"quantitative","scale":{"domain":[-10.2,217],"nice":false,"zero":false},"axis":{"orient":"left","values":[0,100,200],"title":"[S] (ppb)","titlePadding":3}}}},
    {"data":{"values":[{}]},"mark":{"type":"text","text":"G","fontSize":18,"font":"Liberation Sans","color":"#222","clip":false},"encoding":{
      "x":{"datum":1452.74,"type":"quantitative","scale":{"domain":[1451.93,1463.15],"nice":false,"zero":false},"axis":null},
      "y":{"datum":190,"type":"quantitative","scale":{"domain":[-10.2,217],"nice":false,"zero":false},"axis":{"orient":"left","values":[0,100,200],"title":"[S] (ppb)","titlePadding":3}}}}
   ]},
  {"width":169,"height":67,
   "layer":[
    {"data":{"name":"c3Lp"},"mark":{"type":"rule","color":"#aaa","strokeWidth":0.8,"clip":true},"encoding":{
      "x":{"field":"yr","type":"quantitative","scale":{"domain":[1599.97,1605.22],"nice":false,"zero":false},"axis":null},
      "y":{"field":"lo","type":"quantitative","scale":{"domain":[-2.81,60],"nice":false,"zero":false},"axis":{"orient":"left","values":[0,20,40,60],"title":"[S] (ppb)","titlePadding":7}},"y2":{"field":"hi"}}},
    {"data":{"name":"c3L"},"mark":{"type":"line","color":"#3a45b0","strokeWidth":1.4,"interpolate":"monotone","clip":true},"encoding":{
      "x":{"field":"yr","type":"quantitative","scale":{"domain":[1599.97,1605.22],"nice":false,"zero":false},"axis":null},
      "y":{"field":"v","type":"quantitative","scale":{"domain":[-2.81,60],"nice":false,"zero":false},"axis":{"orient":"left","values":[0,20,40,60],"title":"[S] (ppb)","titlePadding":7}}}},
    {"data":{"name":"c3Lp"},"mark":{"type":"point","shape":"square","filled":false,"size":14,"strokeWidth":0.9,"color":"#5560c0","clip":true},"encoding":{
      "x":{"field":"yr","type":"quantitative","scale":{"domain":[1599.97,1605.22],"nice":false,"zero":false},"axis":null},
      "y":{"field":"v","type":"quantitative","scale":{"domain":[-2.81,60],"nice":false,"zero":false},"axis":{"orient":"left","values":[0,20,40,60],"title":"[S] (ppb)","titlePadding":7}}}},
    {"data":{"values":[{}]},"mark":{"type":"text","text":"L","fontSize":18,"font":"Liberation Sans","color":"#222","clip":false},"encoding":{
      "x":{"datum":1600.44,"type":"quantitative","scale":{"domain":[1599.97,1605.22],"nice":false,"zero":false},"axis":null},
      "y":{"datum":53.4,"type":"quantitative","scale":{"domain":[-2.81,60],"nice":false,"zero":false},"axis":{"orient":"left","values":[0,20,40,60],"title":"[S] (ppb)","titlePadding":7}}}}
   ]},
  {"width":152,"height":68,
   "layer":[
    {"data":{"name":"c1C"},"transform":[{"filter":"datum.s==='M'"}],"mark":{"type":"line","color":"#e0399e","strokeDash":[2,1.5],"strokeWidth":1.2,"clip":true,"point":{"shape":"cross","size":16,"filled":true,"color":"#e0399e"}},"encoding":{
      "x":{"field":"yr","type":"quantitative","scale":{"domain":[533.73,544.14],"nice":false,"zero":false},"axis":null},
      "y":{"field":"v","type":"quantitative","scale":{"domain":[-5.1,21.57],"nice":false,"zero":false},"axis":{"orient":"right","values":[0,10,20],"title":"δ³⁴S (‰)","titleAngle":270,"titleBaseline":"top"}}}},
    {"data":{"name":"c1C"},"transform":[{"filter":"datum.s==='L1'"}],"mark":{"type":"line","color":"#3a45b0","strokeWidth":1.3,"clip":true,"point":{"filled":true,"size":6,"color":"#3a45b0"}},"encoding":{
      "x":{"field":"yr","type":"quantitative","scale":{"domain":[533.73,544.14],"nice":false,"zero":false},"axis":null},
      "y":{"field":"v","type":"quantitative","scale":{"domain":[-5.1,21.57],"nice":false,"zero":false},"axis":{"orient":"right","values":[0,10,20],"title":"δ³⁴S (‰)","titleAngle":270,"titleBaseline":"top"}}}},
    {"data":{"name":"c1C"},"transform":[{"filter":"datum.s==='L2'"}],"mark":{"type":"line","color":"#2a3590","strokeWidth":1.6,"clip":true,"point":{"filled":false,"size":16,"color":"#3a45b0","strokeWidth":0.9}},"encoding":{
      "x":{"field":"yr","type":"quantitative","scale":{"domain":[533.73,544.14],"nice":false,"zero":false},"axis":null},
      "y":{"field":"v","type":"quantitative","scale":{"domain":[-5.1,21.57],"nice":false,"zero":false},"axis":{"orient":"right","values":[0,10,20],"title":"δ³⁴S (‰)","titleAngle":270,"titleBaseline":"top"}}}},
    {"data":{"values":[{}]},"mark":{"type":"text","text":"C","fontSize":18,"font":"Liberation Sans","color":"#222","clip":false},"encoding":{
      "x":{"datum":543.52,"type":"quantitative","scale":{"domain":[533.73,544.14],"nice":false,"zero":false},"axis":null},
      "y":{"datum":19.6,"type":"quantitative","scale":{"domain":[-5.1,21.57],"nice":false,"zero":false},"axis":{"orient":"right","values":[0,10,20],"title":"δ³⁴S (‰)","titleAngle":270,"titleBaseline":"top"}}}}
   ]},
  {"width":166,"height":68,
   "layer":[
    {"data":{"name":"c2H"},"transform":[{"filter":"datum.s==='M'"}],"mark":{"type":"line","color":"#e0399e","strokeDash":[2,1.5],"strokeWidth":1.2,"clip":true,"point":{"shape":"cross","size":16,"filled":true,"color":"#e0399e"}},"encoding":{
      "x":{"field":"yr","type":"quantitative","scale":{"domain":[1451.93,1463.15],"nice":false,"zero":false},"axis":null},
      "y":{"field":"v","type":"quantitative","scale":{"domain":[-10,21.875],"nice":false,"zero":false},"axis":{"orient":"right","values":[-10,0,10,20],"title":"δ³⁴S (‰)","titleAngle":270,"titleBaseline":"top"}}}},
    {"data":{"name":"c2H"},"transform":[{"filter":"datum.s==='L0' || datum.s==='L1'"}],"mark":{"type":"line","color":"#3a45b0","strokeWidth":1.3,"clip":true,"point":{"filled":true,"size":6,"color":"#3a45b0"}},"encoding":{
      "x":{"field":"yr","type":"quantitative","scale":{"domain":[1451.93,1463.15],"nice":false,"zero":false},"axis":null},
      "y":{"field":"v","type":"quantitative","scale":{"domain":[-10,21.875],"nice":false,"zero":false},"axis":{"orient":"right","values":[-10,0,10,20],"title":"δ³⁴S (‰)","titleAngle":270,"titleBaseline":"top"}},"detail":{"field":"s"}}},
    {"data":{"name":"c2H"},"transform":[{"filter":"datum.s==='L2'"}],"mark":{"type":"line","color":"#2a3590","strokeWidth":1.8,"clip":true,"point":{"filled":true,"size":6,"color":"#2a3590"}},"encoding":{
      "x":{"field":"yr","type":"quantitative","scale":{"domain":[1451.93,1463.15],"nice":false,"zero":false},"axis":null},
      "y":{"field":"v","type":"quantitative","scale":{"domain":[-10,21.875],"nice":false,"zero":false},"axis":{"orient":"right","values":[-10,0,10,20],"title":"δ³⁴S (‰)","titleAngle":270,"titleBaseline":"top"}}}},
    {"data":{"name":"c2H"},"transform":[{"filter":"datum.s==='C'"}],"mark":{"type":"point","filled":false,"size":16,"color":"#3a45b0","strokeWidth":0.9,"clip":true},"encoding":{
      "x":{"field":"yr","type":"quantitative","scale":{"domain":[1451.93,1463.15],"nice":false,"zero":false},"axis":null},
      "y":{"field":"v","type":"quantitative","scale":{"domain":[-10,21.875],"nice":false,"zero":false},"axis":{"orient":"right","values":[-10,0,10,20],"title":"δ³⁴S (‰)","titleAngle":270,"titleBaseline":"top"}}}},
    {"data":{"values":[{}]},"mark":{"type":"text","text":"H","fontSize":18,"font":"Liberation Sans","color":"#222","clip":false},"encoding":{
      "x":{"datum":1462.67,"type":"quantitative","scale":{"domain":[1451.93,1463.15],"nice":false,"zero":false},"axis":null},
      "y":{"datum":19.7,"type":"quantitative","scale":{"domain":[-10,21.875],"nice":false,"zero":false},"axis":{"orient":"right","values":[-10,0,10,20],"title":"δ³⁴S (‰)","titleAngle":270,"titleBaseline":"top"}}}}
   ]},
  {"width":169,"height":68,
   "layer":[
    {"data":{"name":"c3M"},"mark":{"type":"line","color":"#3a45b0","strokeWidth":1.3,"clip":true,"point":{"filled":true,"size":6,"color":"#3a45b0"}},"encoding":{
      "x":{"field":"yr","type":"quantitative","scale":{"domain":[1599.97,1605.22],"nice":false,"zero":false},"axis":null},
      "y":{"field":"v","type":"quantitative","scale":{"domain":[-10,21.875],"nice":false,"zero":false},"axis":{"orient":"right","values":[-10,0,10,20],"title":"δ³⁴S (‰)","titleAngle":270,"titleBaseline":"top"}}}}
   ]},
  {"width":152,"height":95,
   "layer":[
    {"data":{"values":[{}]},"mark":{"type":"rule","color":"#777","strokeDash":[8,5],"strokeWidth":1.2},"encoding":{
      "y":{"datum":0,"type":"quantitative","scale":{"domain":[-1.183,1.371],"nice":false,"zero":false},"axis":null}}},
    {"data":{"name":"c1D"},"transform":[{"filter":"datum.s==='L1'"}],"mark":{"type":"rule","color":"#aaa","strokeWidth":0.8,"clip":true},"encoding":{
      "x":{"field":"yr","type":"quantitative","scale":{"domain":[533.73,544.14],"nice":false,"zero":false},"axis":null},
      "y":{"field":"lo","type":"quantitative","scale":{"domain":[-1.183,1.371],"nice":false,"zero":false},"axis":null},"y2":{"field":"hi"}}},
    {"data":{"name":"c1D"},"transform":[{"filter":"datum.s==='M'"}],"mark":{"type":"line","color":"#e0399e","strokeDash":[2,1.5],"strokeWidth":1.2,"clip":true,"point":{"shape":"cross","size":16,"filled":true,"color":"#e0399e"}},"encoding":{
      "x":{"field":"yr","type":"quantitative","scale":{"domain":[533.73,544.14],"nice":false,"zero":false},"axis":null},
      "y":{"field":"v","type":"quantitative","scale":{"domain":[-1.183,1.371],"nice":false,"zero":false},"axis":null}}},
    {"data":{"name":"c1D"},"transform":[{"filter":"datum.s==='L1'"}],"mark":{"type":"line","color":"#3a45b0","strokeWidth":1.3,"clip":true,"point":{"filled":true,"size":6,"color":"#3a45b0"}},"encoding":{
      "x":{"field":"yr","type":"quantitative","scale":{"domain":[533.73,544.14],"nice":false,"zero":false},"axis":null},
      "y":{"field":"v","type":"quantitative","scale":{"domain":[-1.183,1.371],"nice":false,"zero":false},"axis":null}}},
    {"data":{"name":"c1D"},"transform":[{"filter":"datum.s==='L2'"}],"mark":{"type":"line","color":"#2a3590","strokeWidth":1.6,"clip":true,"point":{"filled":false,"size":16,"color":"#3a45b0","strokeWidth":0.9}},"encoding":{
      "x":{"field":"yr","type":"quantitative","scale":{"domain":[533.73,544.14],"nice":false,"zero":false},"axis":null},
      "y":{"field":"v","type":"quantitative","scale":{"domain":[-1.183,1.371],"nice":false,"zero":false},"axis":null}}}
   ]},
  {"width":166,"height":95,
   "layer":[
    {"data":{"values":[{}]},"mark":{"type":"rule","color":"#777","strokeDash":[8,5],"strokeWidth":1.2},"encoding":{
      "y":{"datum":0,"type":"quantitative","scale":{"domain":[-1.008,1.546],"nice":false,"zero":false},"axis":{"orient":"left","values":[-1,-0.5,0,0.5,1,1.5],"format":"~g","title":"Δ³³S (‰)","titlePadding":3}}}},
    {"data":{"name":"c2I"},"mark":{"type":"rule","color":"#aaa","strokeWidth":0.8,"clip":true},"encoding":{
      "x":{"field":"yr","type":"quantitative","scale":{"domain":[1451.93,1463.15],"nice":false,"zero":false},"axis":null},
      "y":{"field":"lo","type":"quantitative","scale":{"domain":[-1.008,1.546],"nice":false,"zero":false},"axis":{"orient":"left","values":[-1,-0.5,0,0.5,1,1.5],"format":"~g","title":"Δ³³S (‰)","titlePadding":3}},"y2":{"field":"hi"}}},
    {"data":{"name":"c2I"},"transform":[{"filter":"datum.s==='M'"}],"mark":{"type":"line","color":"#e0399e","strokeDash":[2,1.5],"strokeWidth":1.2,"clip":true,"point":{"shape":"cross","size":16,"filled":true,"color":"#e0399e"}},"encoding":{
      "x":{"field":"yr","type":"quantitative","scale":{"domain":[1451.93,1463.15],"nice":false,"zero":false},"axis":null},
      "y":{"field":"v","type":"quantitative","scale":{"domain":[-1.008,1.546],"nice":false,"zero":false},"axis":{"orient":"left","values":[-1,-0.5,0,0.5,1,1.5],"format":"~g","title":"Δ³³S (‰)","titlePadding":3}}}},
    {"data":{"name":"c2I"},"transform":[{"filter":"datum.s==='L0' || datum.s==='L1'"}],"mark":{"type":"line","color":"#3a45b0","strokeWidth":1.3,"clip":true,"point":{"filled":false,"size":14,"color":"#3a45b0","strokeWidth":0.9}},"encoding":{
      "x":{"field":"yr","type":"quantitative","scale":{"domain":[1451.93,1463.15],"nice":false,"zero":false},"axis":null},
      "y":{"field":"v","type":"quantitative","scale":{"domain":[-1.008,1.546],"nice":false,"zero":false},"axis":{"orient":"left","values":[-1,-0.5,0,0.5,1,1.5],"format":"~g","title":"Δ³³S (‰)","titlePadding":3}},"detail":{"field":"s"}}},
    {"data":{"name":"c2I"},"transform":[{"filter":"datum.s==='L2'"}],"mark":{"type":"line","color":"#2a3590","strokeWidth":1.8,"clip":true,"point":{"filled":true,"size":6,"color":"#2a3590"}},"encoding":{
      "x":{"field":"yr","type":"quantitative","scale":{"domain":[1451.93,1463.15],"nice":false,"zero":false},"axis":null},
      "y":{"field":"v","type":"quantitative","scale":{"domain":[-1.008,1.546],"nice":false,"zero":false},"axis":{"orient":"left","values":[-1,-0.5,0,0.5,1,1.5],"format":"~g","title":"Δ³³S (‰)","titlePadding":3}}}},
    {"data":{"values":[{}]},"mark":{"type":"text","text":"I","fontSize":18,"font":"Liberation Sans","color":"#222","clip":false},"encoding":{
      "x":{"datum":1452.54,"type":"quantitative","scale":{"domain":[1451.93,1463.15],"nice":false,"zero":false},"axis":null},
      "y":{"datum":1.28,"type":"quantitative","scale":{"domain":[-1.008,1.546],"nice":false,"zero":false},"axis":{"orient":"left","values":[-1,-0.5,0,0.5,1,1.5],"format":"~g","title":"Δ³³S (‰)","titlePadding":3}}}}
   ]},
  {"width":169,"height":95,
   "layer":[
    {"data":{"values":[{}]},"mark":{"type":"rule","color":"#777","strokeDash":[8,5],"strokeWidth":1.2},"encoding":{
      "y":{"datum":0,"type":"quantitative","scale":{"domain":[-1.021,1],"nice":false,"zero":false},"axis":{"orient":"left","values":[-1,-0.5,0,0.5,1],"format":"~g","title":"Δ³³S","titlePadding":7}}}},
    {"data":{"name":"c3N"},"mark":{"type":"rule","color":"#aaa","strokeWidth":0.8,"clip":true},"encoding":{
      "x":{"field":"yr","type":"quantitative","scale":{"domain":[1599.97,1605.22],"nice":false,"zero":false},"axis":null},
      "y":{"field":"lo","type":"quantitative","scale":{"domain":[-1.021,1],"nice":false,"zero":false},"axis":{"orient":"left","values":[-1,-0.5,0,0.5,1],"format":"~g","title":"Δ³³S","titlePadding":7}},"y2":{"field":"hi"}}},
    {"data":{"name":"c3N"},"mark":{"type":"line","color":"#3a45b0","strokeWidth":1.3,"clip":true,"point":{"filled":true,"size":6,"color":"#3a45b0"}},"encoding":{
      "x":{"field":"yr","type":"quantitative","scale":{"domain":[1599.97,1605.22],"nice":false,"zero":false},"axis":null},
      "y":{"field":"v","type":"quantitative","scale":{"domain":[-1.021,1],"nice":false,"zero":false},"axis":{"orient":"left","values":[-1,-0.5,0,0.5,1],"format":"~g","title":"Δ³³S","titlePadding":7}}}},
    {"data":{"values":[{}]},"mark":{"type":"text","text":"N","fontSize":18,"font":"Liberation Sans","color":"#222","clip":false},"encoding":{
      "x":{"datum":1600.34,"type":"quantitative","scale":{"domain":[1599.97,1605.22],"nice":false,"zero":false},"axis":null},
      "y":{"datum":0.85,"type":"quantitative","scale":{"domain":[-1.021,1],"nice":false,"zero":false},"axis":{"orient":"left","values":[-1,-0.5,0,0.5,1],"format":"~g","title":"Δ³³S","titlePadding":7}}}}
   ]},
  {"width":152,"height":45,
   "layer":[
    {"data":{"name":"c1E"},"transform":[{"filter":"datum.s==='fill'"}],"mark":{"type":"area","color":"#2f6db8","opacity":1,"clip":true},"encoding":{
      "x":{"field":"yr","type":"quantitative","scale":{"domain":[533.73,544.14],"nice":false,"zero":false},"axis":{"orient":"bottom","values":[536,538,540,542,544],"format":"d","title":"Year CE","titleFontSize":10,"titlePadding":1}},
      "y":{"field":"v","type":"quantitative","scale":{"domain":[0,219.5],"nice":false,"zero":false},"axis":{"orient":"right","values":[0,100,200],"title":"[S] (ppb)","titleAngle":270,"titleBaseline":"top"}},"detail":{"field":"g"}}},
    {"data":{"name":"c1E"},"transform":[{"filter":"datum.s==='ub'"}],"mark":{"type":"line","color":"#333","strokeDash":[1.3,1.3],"strokeWidth":1,"interpolate":"monotone","clip":true},"encoding":{
      "x":{"field":"yr","type":"quantitative","scale":{"domain":[533.73,544.14],"nice":false,"zero":false},"axis":{"orient":"bottom","values":[536,538,540,542,544],"format":"d","title":"Year CE","titleFontSize":10,"titlePadding":1}},
      "y":{"field":"v","type":"quantitative","scale":{"domain":[0,219.5],"nice":false,"zero":false},"axis":{"orient":"right","values":[0,100,200],"title":"[S] (ppb)","titleAngle":270,"titleBaseline":"top"}},"detail":{"field":"g"}}},
    {"data":{"name":"c1E"},"transform":[{"filter":"datum.s==='tot'"}],"mark":{"type":"line","color":"#3a45b0","strokeWidth":1.3,"interpolate":"monotone","clip":true},"encoding":{
      "x":{"field":"yr","type":"quantitative","scale":{"domain":[533.73,544.14],"nice":false,"zero":false},"axis":{"orient":"bottom","values":[536,538,540,542,544],"format":"d","title":"Year CE","titleFontSize":10,"titlePadding":1}},
      "y":{"field":"v","type":"quantitative","scale":{"domain":[0,219.5],"nice":false,"zero":false},"axis":{"orient":"right","values":[0,100,200],"title":"[S] (ppb)","titleAngle":270,"titleBaseline":"top"}}}},
    {"data":{"values":[{}]},"mark":{"type":"text","text":"E","fontSize":18,"font":"Liberation Sans","color":"#222","clip":false},"encoding":{
      "x":{"datum":543.18,"type":"quantitative","scale":{"domain":[533.73,544.14],"nice":false,"zero":false},"axis":{"orient":"bottom","values":[536,538,540,542,544],"format":"d","title":"Year CE","titleFontSize":10,"titlePadding":1}},
      "y":{"datum":205,"type":"quantitative","scale":{"domain":[0,219.5],"nice":false,"zero":false},"axis":{"orient":"right","values":[0,100,200],"title":"[S] (ppb)","titleAngle":270,"titleBaseline":"top"}}}}
   ]},
  {"width":166,"height":45,
   "layer":[
    {"data":{"name":"c2J"},"transform":[{"filter":"datum.s==='fill'"}],"mark":{"type":"area","color":"#2f6db8","opacity":1,"clip":true},"encoding":{
      "x":{"field":"yr","type":"quantitative","scale":{"domain":[1451.93,1463.15],"nice":false,"zero":false},"axis":{"orient":"bottom","values":[1452,1454,1456,1458,1460,1462],"format":"d","title":"Year CE","titleFontSize":10,"titlePadding":1}},
      "y":{"field":"v","type":"quantitative","scale":{"domain":[0,145.2],"nice":false,"zero":false},"axis":{"orient":"right","values":[0,50,100],"title":"[S] (ppb)","titleAngle":270,"titleBaseline":"top"}},"detail":{"field":"g"}}},
    {"data":{"name":"c2J"},"transform":[{"filter":"datum.s==='ub'"}],"mark":{"type":"line","color":"#333","strokeDash":[1.3,1.3],"strokeWidth":1,"interpolate":"monotone","clip":true},"encoding":{
      "x":{"field":"yr","type":"quantitative","scale":{"domain":[1451.93,1463.15],"nice":false,"zero":false},"axis":{"orient":"bottom","values":[1452,1454,1456,1458,1460,1462],"format":"d","title":"Year CE","titleFontSize":10,"titlePadding":1}},
      "y":{"field":"v","type":"quantitative","scale":{"domain":[0,145.2],"nice":false,"zero":false},"axis":{"orient":"right","values":[0,50,100],"title":"[S] (ppb)","titleAngle":270,"titleBaseline":"top"}},"detail":{"field":"g"}}},
    {"data":{"name":"c2J"},"transform":[{"filter":"datum.s==='tot'"}],"mark":{"type":"line","color":"#3a45b0","strokeWidth":1.3,"interpolate":"monotone","clip":true},"encoding":{
      "x":{"field":"yr","type":"quantitative","scale":{"domain":[1451.93,1463.15],"nice":false,"zero":false},"axis":{"orient":"bottom","values":[1452,1454,1456,1458,1460,1462],"format":"d","title":"Year CE","titleFontSize":10,"titlePadding":1}},
      "y":{"field":"v","type":"quantitative","scale":{"domain":[0,145.2],"nice":false,"zero":false},"axis":{"orient":"right","values":[0,50,100],"title":"[S] (ppb)","titleAngle":270,"titleBaseline":"top"}}}},
    {"data":{"values":[{}]},"mark":{"type":"text","text":"J","fontSize":18,"font":"Liberation Sans","color":"#222","clip":false},"encoding":{
      "x":{"datum":1462.54,"type":"quantitative","scale":{"domain":[1451.93,1463.15],"nice":false,"zero":false},"axis":{"orient":"bottom","values":[1452,1454,1456,1458,1460,1462],"format":"d","title":"Year CE","titleFontSize":10,"titlePadding":1}},
      "y":{"datum":129,"type":"quantitative","scale":{"domain":[0,145.2],"nice":false,"zero":false},"axis":{"orient":"right","values":[0,50,100],"title":"[S] (ppb)","titleAngle":270,"titleBaseline":"top"}}}}
   ]},
  {"width":169,"height":45,
   "layer":[
    {"data":{"name":"c3O"},"transform":[{"filter":"datum.s==='fill'"}],"mark":{"type":"area","color":"#2f6db8","opacity":1,"interpolate":"monotone","clip":true},"encoding":{
      "x":{"field":"yr","type":"quantitative","scale":{"domain":[1599.97,1605.22],"nice":false,"zero":false},"axis":{"orient":"bottom","values":[1600,1601,1602,1603,1604],"format":"d","title":"Year CE","titleFontSize":10,"titlePadding":1}},
      "y":{"field":"v","type":"quantitative","scale":{"domain":[0,100],"nice":false,"zero":false},"axis":{"orient":"right","values":[0,50],"title":"[S] (ppb)","titleAngle":270,"titleBaseline":"top"}}}},
    {"data":{"name":"c3O"},"transform":[{"filter":"datum.s==='lb'"}],"mark":{"type":"line","color":"#1a2a50","strokeDash":[1.3,1.3],"strokeWidth":1,"interpolate":"monotone","clip":true},"encoding":{
      "x":{"field":"yr","type":"quantitative","scale":{"domain":[1599.97,1605.22],"nice":false,"zero":false},"axis":{"orient":"bottom","values":[1600,1601,1602,1603,1604],"format":"d","title":"Year CE","titleFontSize":10,"titlePadding":1}},
      "y":{"field":"v","type":"quantitative","scale":{"domain":[0,100],"nice":false,"zero":false},"axis":{"orient":"right","values":[0,50],"title":"[S] (ppb)","titleAngle":270,"titleBaseline":"top"}}}},
    {"data":{"name":"c3O"},"transform":[{"filter":"datum.s==='ub'"}],"mark":{"type":"line","color":"#333","strokeDash":[1.3,1.3],"strokeWidth":1,"interpolate":"monotone","clip":true},"encoding":{
      "x":{"field":"yr","type":"quantitative","scale":{"domain":[1599.97,1605.22],"nice":false,"zero":false},"axis":{"orient":"bottom","values":[1600,1601,1602,1603,1604],"format":"d","title":"Year CE","titleFontSize":10,"titlePadding":1}},
      "y":{"field":"v","type":"quantitative","scale":{"domain":[0,100],"nice":false,"zero":false},"axis":{"orient":"right","values":[0,50],"title":"[S] (ppb)","titleAngle":270,"titleBaseline":"top"}}}},
    {"data":{"name":"c3O"},"transform":[{"filter":"datum.s==='tot'"}],"mark":{"type":"line","color":"#3a45b0","strokeWidth":1.3,"interpolate":"monotone","clip":true},"encoding":{
      "x":{"field":"yr","type":"quantitative","scale":{"domain":[1599.97,1605.22],"nice":false,"zero":false},"axis":{"orient":"bottom","values":[1600,1601,1602,1603,1604],"format":"d","title":"Year CE","titleFontSize":10,"titlePadding":1}},
      "y":{"field":"v","type":"quantitative","scale":{"domain":[0,100],"nice":false,"zero":false},"axis":{"orient":"right","values":[0,50],"title":"[S] (ppb)","titleAngle":270,"titleBaseline":"top"}}}}
   ]}
]
}
